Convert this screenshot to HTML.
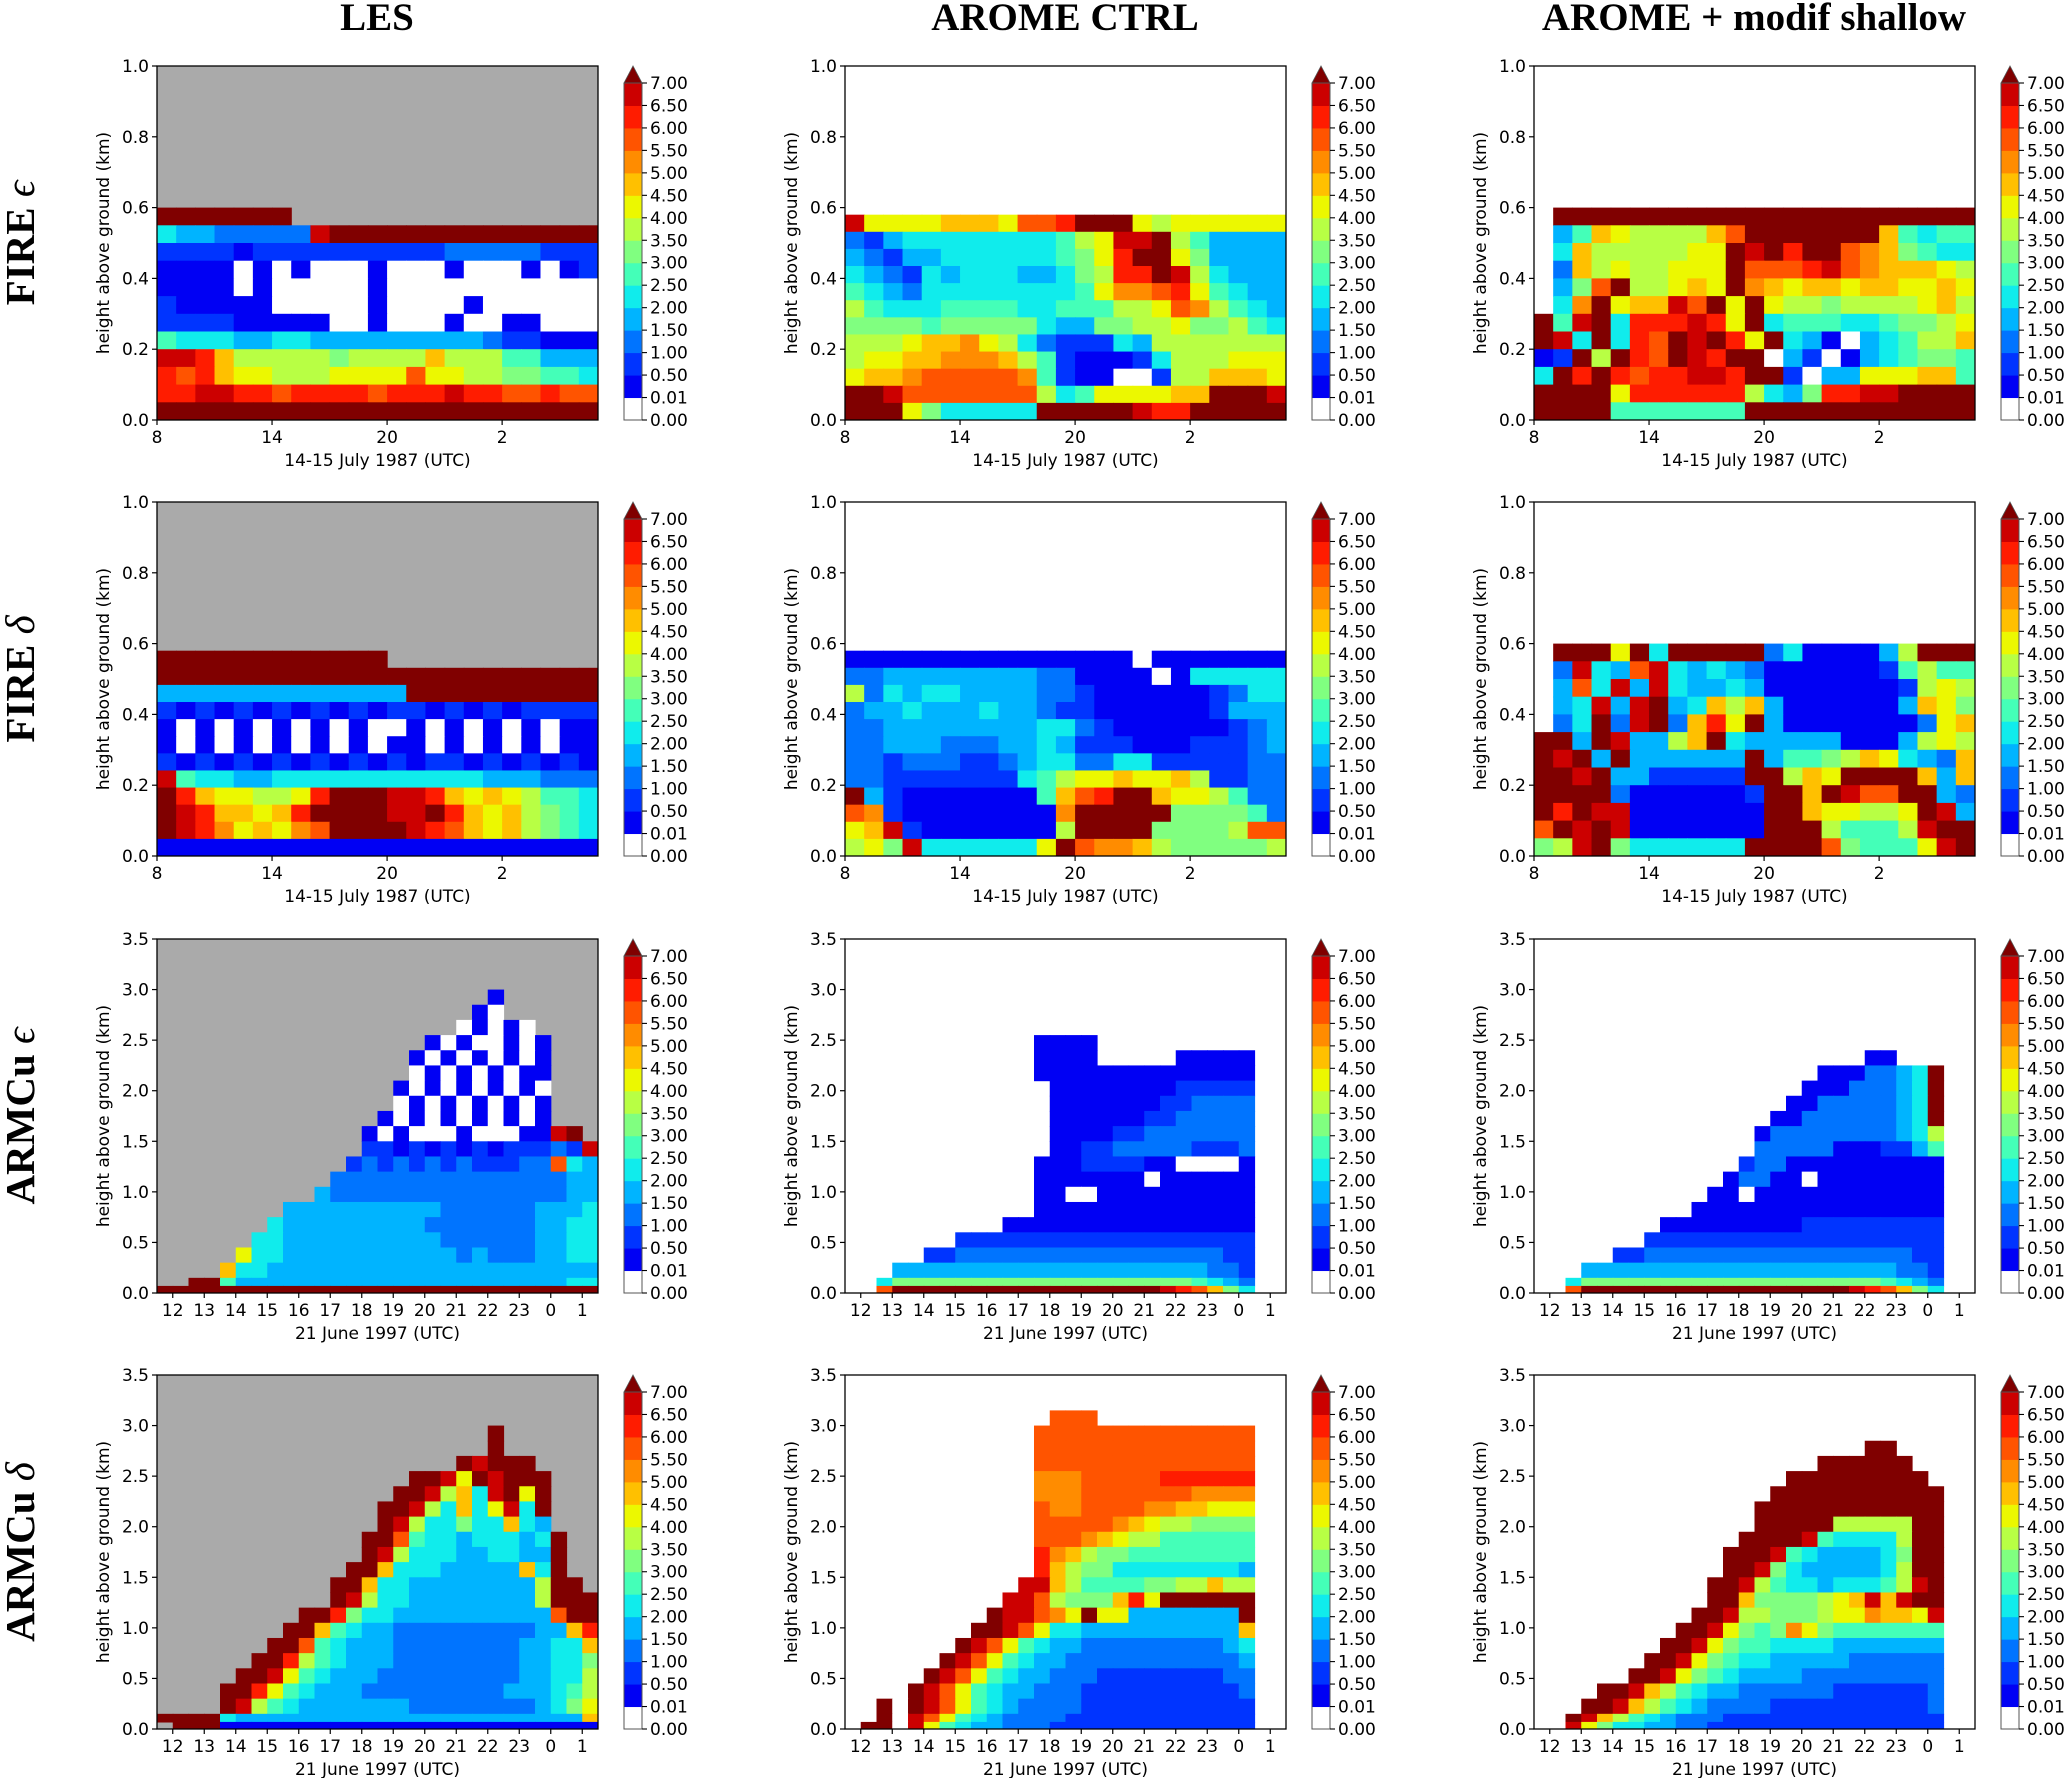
<!DOCTYPE html>
<html><head><meta charset="utf-8"><title>Entrainment / detrainment rates</title>
<style>
html,body{margin:0;padding:0;background:#fff;}
#fig{position:absolute;left:0;top:0;width:2067px;height:1778px;}
svg text{font-family:"DejaVu Sans","Liberation Sans",sans-serif;fill:#000;}
.title{font-family:"Liberation Serif","DejaVu Serif",serif !important;font-weight:bold;font-size:39px;}
.rowlab{font-family:"Liberation Serif","DejaVu Serif",serif !important;font-weight:bold;font-size:41px;}
</style></head>
<body>
<div id="fig">
<svg id="svg" width="2067" height="1778" viewBox="0 0 2067 1778" xmlns="http://www.w3.org/2000/svg">
<text class="title" x="377" y="30" text-anchor="middle">LES</text>
<text class="title" x="1065" y="30" text-anchor="middle">AROME CTRL</text>
<text class="title" x="1754" y="30" text-anchor="middle">AROME + modif shallow</text>
<text class="rowlab" transform="translate(20,243) rotate(-90)" text-anchor="middle" dominant-baseline="central">FIRE <tspan font-style="italic" font-weight="normal">ϵ</tspan></text>
<text class="rowlab" transform="translate(20,679) rotate(-90)" text-anchor="middle" dominant-baseline="central">FIRE <tspan font-style="italic" font-weight="normal">δ</tspan></text>
<text class="rowlab" transform="translate(20,1116) rotate(-90)" text-anchor="middle" dominant-baseline="central">ARMCu <tspan font-style="italic" font-weight="normal">ϵ</tspan></text>
<text class="rowlab" transform="translate(20,1552) rotate(-90)" text-anchor="middle" dominant-baseline="central">ARMCu <tspan font-style="italic" font-weight="normal">δ</tspan></text>
</svg>
</div>
<script>
// ---------- data ----------
// cell codes: '.' = no data, '0' = 0, '1'..'e' = bins 0.01-0.5 ... 6.5-7, 'f' = >7
const cbBounds = [0, 0.01, 0.5, 1, 1.5, 2, 2.5, 3, 3.5, 4, 4.5, 5, 5.5, 6, 6.5, 7];
const cbLabels = ['0.00','0.01','0.50','1.00','1.50','2.00','2.50','3.00','3.50','4.00','4.50','5.00','5.50','6.00','6.50','7.00'];
const cbColors = ['#ffffff','#0000f4','#0034ff','#0074ff','#00b4ff','#10ecec','#44ffb8','#80ff80','#b8ff44','#ecf800','#ffc000','#ff8c00','#ff5400','#ff1c00','#cc0000'];
const overColor = '#800000';

const fireXTicks = [8, 14, 20, 26];
const fireXTickLabels = ['8', '14', '20', '2'];
const fireYTicks = [0, 0.2, 0.4, 0.6, 0.8, 1.0];
const fireYTickLabels = ['0.0', '0.2', '0.4', '0.6', '0.8', '1.0'];
const armXTicks = [12, 13, 14, 15, 16, 17, 18, 19, 20, 21, 22, 23, 24, 25];
const armXTickLabels = ['12', '13', '14', '15', '16', '17', '18', '19', '20', '21', '22', '23', '0', '1'];
const armYTicks = [0, 0.5, 1, 1.5, 2, 2.5, 3, 3.5];
const armYTickLabels = ['0.0', '0.5', '1.0', '1.5', '2.0', '2.5', '3.0', '3.5'];
const armRowEdges = [3.15, 3.0, 2.85, 2.7, 2.55, 2.4, 2.25, 2.1, 1.95, 1.8, 1.65, 1.5, 1.35, 1.2, 1.05, 0.9, 0.75, 0.6, 0.45, 0.3, 0.15, 0.07, 0];

const fireLesEps = [
"fffffff................",
"54433333effffffffffffff",
"22221222222222233333222",
"11110101000100010001012",
"11110100000100000000000",
"21111100000100001000000",
"22221111100100010011000",
"65554455444444444322111",
"eeda8888878888a88866444",
"dcda998889999c998877665",
"ddeeddcddddcdddeddccdcc",
"fffffffffffffffffffffff"];
const fireCtrlEps = [
"e9999aaa9ccdfff98999999",
"32455555555689eef864444",
"43244555555679dff974444",
"54325455544578ddfe85444",
"65435555555569bbcd96544",
"86555666655666889cb8654",
"77776777775447788977865",
"8889aab9853222548888888",
"899aabbba86211125888999",
"9aabcccccb621100288aaa9",
"ffeccccccc8569999aafffe",
"fff9755555fffffeddfffff"];
const fireModEps = [
".ffffffffffffffffffffff",
".46a98888acfffffffa6566",
".5a8888899fefdffcba7655",
".3a8988999fcccdecbaaa98",
".47cf889a9fba9aa9aa99a9",
".5bf9aaecf9f988788889a8",
"f6ef5ddded9f56665567789",
"fe5f5dcfefd9f541045688a",
"12f8fdcfedff04201456776",
"5fdfdcddeedff2044999aa6",
"ffff9dddddd8547ddeeffff",
"ffff6666666ffffffffffff"];
const fireLesDel = [
"ffffffffffff...........",
"fffffffffffffffffffffff",
"4444444444444ffffffffff",
"21212121212122121212222",
"10101010101001010101011",
"10101010101011010101011",
"21212121212121221212121",
"e6554455555555555444333",
"fda99889dfffeeda9a98665",
"fedaa9adffffeefda9a8765",
"fedb9a9bcffffedca9a8765",
"11111111111111111111111"];
const fireCtrlDel = [
"11111111111111101111111",
"33444444443311110155555",
"83545544443321111112355",
"34454445443221111112444",
"33444444445532111111234",
"33444333445422211122234",
"33233322345533552222233",
"33222222256899a99a82233",
"f4211111116acdffa998633",
"cb211111111bfffff777763",
"9ae211111118ffff77778cc",
"897e5555559fcbba8777778"];
const fireModDel = [
".fff9f5fffff35111148fff",
".3e54ce5454311111126866",
".4c5e4e5445411111112898",
".45e4ef45a8a41111114a97",
".35f3ef3ad9f4111111139a",
"ff4fe448af5444441114898",
"fef4f444444f46678a9543a",
"ffef4422222ff8a9ffffa4a",
"ffff31111112ffafeccff43",
"fdfee1111111ffa99889fe4",
"cfefe1111111fff86668eff",
"78ef7555555ffffc76669ef"];

const armLesEps = [
'.'.repeat(28),
'.'.repeat(21)+'1'+'.'.repeat(6),
'.'.repeat(20)+'10'+'.'.repeat(6),
'.'.repeat(19)+'01010'+'.'.repeat(4),
'.'.repeat(17)+'10100101'+'.'.repeat(3),
'.'.repeat(16)+'101010101'+'.'.repeat(3),
'.'.repeat(16)+'010101011'+'.'.repeat(3),
'.'.repeat(15)+'1010101010'+'.'.repeat(3),
'.'.repeat(15)+'0101010101'+'.'.repeat(3),
'.'.repeat(14)+'10101010101'+'.'.repeat(3),
'.'.repeat(13)+'101000100011ef.',
'.'.repeat(13)+'22121212122232e',
'.'.repeat(12)+'2323232322233c54',
'.'.repeat(11)+'33333333333333344',
'.'.repeat(10)+'433333333333333344',
'.'.repeat(8)+'44444444443333334445',
'.'.repeat(7)+'544444444433333334455',
'.'.repeat(6)+'5544444444443333334455',
'.'.repeat(5)+'95544444444444343334455',
'.'.repeat(4)+'a55444444444444444444444',
'..ff644444444444444444444455',
'f'.repeat(28)];
const armCtrlEps = [
'.'.repeat(28),
'.'.repeat(28),
'.'.repeat(28),
'.'.repeat(28),
'.'.repeat(12)+'1111'+'.'.repeat(12),
'.'.repeat(12)+'1111.....11111..',
'.'.repeat(12)+'11111111111111..',
'.'.repeat(13)+'1111111122222..',
'.'.repeat(13)+'1111111223333..',
'.'.repeat(13)+'1111112233333..',
'.'.repeat(13)+'1111223333333..',
'.'.repeat(13)+'1122333332223..',
'.'.repeat(12)+'11122221100001..',
'.'.repeat(12)+'11111110111111..',
'.'.repeat(12)+'11001111111111..',
'.'.repeat(12)+'11111111111111..',
'.'.repeat(10)+'1111111111111111..',
'.'.repeat(7)+'2222222222222222222..',
'.'.repeat(5)+'223333333333333333322..',
'.'.repeat(3)+'44444444444444444444332..',
'..577777777777777777776543..',
'..cfffffffffffffffffedca75..'];
const armModEps = [
'.'.repeat(28),
'.'.repeat(28),
'.'.repeat(28),
'.'.repeat(28),
'.'.repeat(28),
'.'.repeat(21)+'11'+'.'.repeat(5),
'.'.repeat(18)+'1113345f..',
'.'.repeat(17)+'11133345f..',
'.'.repeat(16)+'113333345f..',
'.'.repeat(15)+'1133333345f..',
'.'.repeat(14)+'133333333458..',
'.'.repeat(14)+'333331112246..',
'.'.repeat(13)+'2331111111111..',
'.'.repeat(12)+'13311011111111..',
'.'.repeat(11)+'110111111111111..',
'.'.repeat(10)+'1111111111111111..',
'.'.repeat(8)+'111111111222222222..',
'.'.repeat(7)+'2222222222222222222..',
'.'.repeat(5)+'223333333333333333322..',
'.'.repeat(3)+'44444444444444444444332..',
'..577777777777777777776543..',
'..cfffffffffffffffffedca75..'];
const armLesDel = [
'.'.repeat(28),
'.'.repeat(21)+'f'+'.'.repeat(6),
'.'.repeat(21)+'f'+'.'.repeat(6),
'.'.repeat(19)+'fefff'+'.'.repeat(4),
'.'.repeat(16)+'ffe9fefff'+'.'.repeat(3),
'.'.repeat(15)+'ffe8a5ef9f'+'.'.repeat(3),
'.'.repeat(14)+'ffe85a59e5f'+'.'.repeat(3),
'.'.repeat(14)+'fe855755a54'+'.'.repeat(3),
'.'.repeat(13)+'ffc655455545f..',
'.'.repeat(13)+'fe8555445544f..',
'.'.repeat(12)+'ffa55544444a5f..',
'.'.repeat(11)+'ffa55444444448ff.',
'.'.repeat(11)+'fe855444444448fff',
'.'.repeat(9)+'ffd7554444444444cff',
'.'.repeat(8)+'ffa654433333333344ad',
'.'.repeat(7)+'ffc65444333333334455a',
'.'.repeat(6)+'ffd8654443333333344557',
'.'.repeat(5)+'ffe96544433333333344558',
'.'.repeat(4)+'ffd965444333333333444568',
'.'.repeat(4)+'fe8654444444333333334579',
'ffff54444444444444444444444a',
'.fff111111111111111111111111'];
const armCtrlDel = [
'.'.repeat(13)+'ccc'+'.'.repeat(12),
'.'.repeat(12)+'cccccccccccccc..',
'.'.repeat(12)+'cccccccccccccc..',
'.'.repeat(12)+'cccccccccccccc..',
'.'.repeat(12)+'bbbcccccdddddd..',
'.'.repeat(12)+'bbbcccccccbbbb..',
'.'.repeat(12)+'cbbccccbbaa999..',
'.'.repeat(12)+'cccccba9887777..',
'.'.repeat(12)+'cccba988666666..',
'.'.repeat(12)+'dba87766666666..',
'.'.repeat(12)+'da877555555554..',
'.'.repeat(11)+'eea866667788a88..',
'.'.repeat(10)+'eec8777ad9ffffff..',
'.'.repeat(9)+'feecb9f994444444f..',
'.'.repeat(8)+'ffec9554444444444a..',
'.'.repeat(7)+'fec9654433333333345..',
'.'.repeat(6)+'fec96544333333333334..',
'.'.repeat(5)+'fec965443332222222233..',
'.'.repeat(4)+'fec9654433322222222223..',
'..f0fec9654333322222222222..',
'..f0ec96543333222222222222..',
'.ff0e965443332222222222222..'];
const armModDel = [
'.'.repeat(28),
'.'.repeat(28),
'.'.repeat(21)+'ff'+'.'.repeat(5),
'.'.repeat(18)+'ffffff'+'.'.repeat(4),
'.'.repeat(16)+'fffffffff'+'.'.repeat(3),
'.'.repeat(15)+'fffffffffff..',
'.'.repeat(14)+'ffffffffffff..',
'.'.repeat(14)+'fffff88888ff..',
'.'.repeat(13)+'ffffe655558ff..',
'.'.repeat(12)+'fffe65444457ff..',
'.'.repeat(12)+'ffe754444458ff..',
'.'.repeat(11)+'ffe8655455568ef..',
'.'.repeat(11)+'ffa777789aeaeff..',
'.'.repeat(10)+'ffe88777899baa9e..',
'.'.repeat(9)+'ffe9767b976666666..',
'.'.repeat(8)+'ffe976655554444444..',
'.'.repeat(7)+'ffe9765544444333333..',
'.'.repeat(6)+'ffe97654444333333333..',
'.'.repeat(4)+'ffea865443333332222223..',
'.'.repeat(3)+'ffea8654333322222222223..',
'..fea865433322222222222222..',
'..e97554433222222222222222..'];

// ---------- layout ----------
const colX = [157, 845, 1534];
const rowY = [66, 502, 939, 1375];
const PW = 441, PH = 354;
const cbX = [624, 1312, 2001];
const CBW = 18, CBTRI = 17;

const panels = [
  {grid: fireLesEps,  kind: 'fire', yTop: 0.6,  col: 0, row: 0, bg: '#aaaaaa', name: 'fire-eps-les'},
  {grid: fireCtrlEps, kind: 'fire', yTop: 0.58, col: 1, row: 0, bg: '#ffffff', name: 'fire-eps-ctrl'},
  {grid: fireModEps,  kind: 'fire', yTop: 0.6,  col: 2, row: 0, bg: '#ffffff', name: 'fire-eps-modif'},
  {grid: fireLesDel,  kind: 'fire', yTop: 0.58, col: 0, row: 1, bg: '#aaaaaa', name: 'fire-delta-les'},
  {grid: fireCtrlDel, kind: 'fire', yTop: 0.58, col: 1, row: 1, bg: '#ffffff', name: 'fire-delta-ctrl'},
  {grid: fireModDel,  kind: 'fire', yTop: 0.6,  col: 2, row: 1, bg: '#ffffff', name: 'fire-delta-modif'},
  {grid: armLesEps,   kind: 'arm', col: 0, row: 2, bg: '#aaaaaa', name: 'armcu-eps-les'},
  {grid: armCtrlEps,  kind: 'arm', col: 1, row: 2, bg: '#ffffff', name: 'armcu-eps-ctrl'},
  {grid: armModEps,   kind: 'arm', col: 2, row: 2, bg: '#ffffff', name: 'armcu-eps-modif'},
  {grid: armLesDel,   kind: 'arm', col: 0, row: 3, bg: '#aaaaaa', name: 'armcu-delta-les'},
  {grid: armCtrlDel,  kind: 'arm', col: 1, row: 3, bg: '#ffffff', name: 'armcu-delta-ctrl'},
  {grid: armModDel,   kind: 'arm', col: 2, row: 3, bg: '#ffffff', name: 'armcu-delta-modif'}
];

const NS = 'http://www.w3.org/2000/svg';
const svg = document.getElementById('svg');
function mk(tag, attrs, parent) {
  const e = document.createElementNS(NS, tag);
  for (const k in attrs) e.setAttribute(k, attrs[k]);
  (parent || svg).appendChild(e);
  return e;
}
const CODES = '0123456789abcdef';
function decode(ch) {
  const i = CODES.indexOf(ch);
  if (i < 0) return NaN;
  if (i === 0) return 0;
  if (i === 15) return 8;
  return (i - 1) * 0.5 + 0.25;
}
function colorOf(v) {
  if (v >= 7) return overColor;
  for (let k = 0; k < cbBounds.length - 1; k++) {
    if (v >= cbBounds[k] && v < cbBounds[k + 1]) return cbColors[k];
  }
  return cbColors[0];
}

const defs = mk('defs', {});
panels.forEach(function (p, pi) {
  const x0 = colX[p.col], y0 = rowY[p.row];
  const fire = p.kind === 'fire';
  const tMin = fire ? 8 : 11.5, tMax = fire ? 31 : 25.5;
  const yMax = fire ? 1.0 : 3.5;
  const xs = function (t) { return x0 + (t - tMin) / (tMax - tMin) * PW; };
  const ys = function (h) { return y0 + PH - h / yMax * PH; };
  const nC = fire ? 23 : 28, dt = fire ? 1 : 0.5;
  const edges = fire ? p.grid.map(function (_, r) { return p.yTop - r * p.yTop / p.grid.length; }).concat([0]) : armRowEdges;

  const cp = mk('clipPath', {id: 'clip' + pi}, defs);
  mk('rect', {x: x0, y: y0, width: PW, height: PH}, cp);

  const g = mk('g', {'clip-path': 'url(#clip' + pi + ')'});
  
  
  const bg = mk('rect', {x: x0, y: y0, width: PW, height: PH, fill: p.bg}, g);
  
  
  p.grid.forEach(function (rowStr, r) {
    for (let c = 0; c < nC && c < rowStr.length; c++) {
      const v = decode(rowStr[c]);
      if (isNaN(v)) continue;
      const xa = xs(tMin + c * dt), xb = xs(tMin + (c + 1) * dt);
      const ya = ys(edges[r]), yb = ys(edges[r + 1]);
      const cell = mk('rect', {x: xa.toFixed(2), y: ya.toFixed(2), width: (xb - xa + 0.6).toFixed(2), height: (yb - ya + 0.6).toFixed(2), fill: colorOf(v)}, g);
      
      
    }
  });

  const frame = mk('rect', {x: x0, y: y0, width: PW, height: PH, fill: 'none', stroke: '#000', 'stroke-width': 1.3});
  
  

  const xt = fire ? fireXTicks : armXTicks, xl = fire ? fireXTickLabels : armXTickLabels;
  xt.forEach(function (t, i) {
    const x = xs(t);
    const tk = mk('line', {x1: x, x2: x, y1: y0 + PH, y2: y0 + PH + 5, stroke: '#000', 'stroke-width': 1.2});
    
    
    const tx = mk('text', {x: x, y: y0 + PH + 23, 'text-anchor': 'middle', 'font-size': 17});
    tx.textContent = xl[i];
    
    
  });
  const yt = fire ? fireYTicks : armYTicks, yl = fire ? fireYTickLabels : armYTickLabels;
  yt.forEach(function (h, i) {
    const y = ys(h);
    const tk = mk('line', {x1: x0 - 5, x2: x0, y1: y, y2: y, stroke: '#000', 'stroke-width': 1.2});
    
    
    const tx = mk('text', {x: x0 - 8, y: y + 6, 'text-anchor': 'end', 'font-size': 17});
    tx.textContent = yl[i];
    
    
  });
  const xlab = mk('text', {x: x0 + PW / 2, y: y0 + PH + 46, 'text-anchor': 'middle', 'font-size': 17});
  xlab.textContent = fire ? '14-15 July 1987 (UTC)' : '21 June 1997 (UTC)';
  
  
  const ylab = mk('text', {transform: 'translate(' + (x0 - 48) + ',' + (y0 + PH / 2) + ') rotate(-90)', 'text-anchor': 'middle', 'font-size': 17});
  ylab.textContent = 'height above ground (km)';
  
  

  const cx = cbX[p.col];
  const cTop = y0 + CBTRI, cBot = y0 + PH;
  const nSeg = cbColors.length;
  const segH = (cBot - cTop) / nSeg;
  const cbg = mk('g', {});
  
  
  cbColors.forEach(function (col, k) {
    const s = mk('rect', {x: cx, y: (cBot - (k + 1) * segH).toFixed(2), width: CBW, height: (segH + 0.5).toFixed(2), fill: col}, cbg);
    
    
  });
  const tri = mk('polygon', {points: cx + ',' + cTop + ' ' + (cx + CBW) + ',' + cTop + ' ' + (cx + CBW / 2) + ',' + y0, fill: overColor, stroke: '#555', 'stroke-width': 0.8}, cbg);
  
  
  const ol = mk('rect', {x: cx, y: cTop, width: CBW, height: cBot - cTop, fill: 'none', stroke: '#555', 'stroke-width': 1}, cbg);
  
  
  cbLabels.forEach(function (lab, k) {
    const y = cBot - k * segH;
    const tk = mk('line', {x1: cx + CBW, x2: cx + CBW + 5, y1: y, y2: y, stroke: '#000', 'stroke-width': 1.1}, cbg);
    
    
    const tx = mk('text', {x: cx + CBW + 8, y: y + 6, 'font-size': 17}, cbg);
    tx.textContent = lab;
    
    
  });
});
</script>
</body></html>
